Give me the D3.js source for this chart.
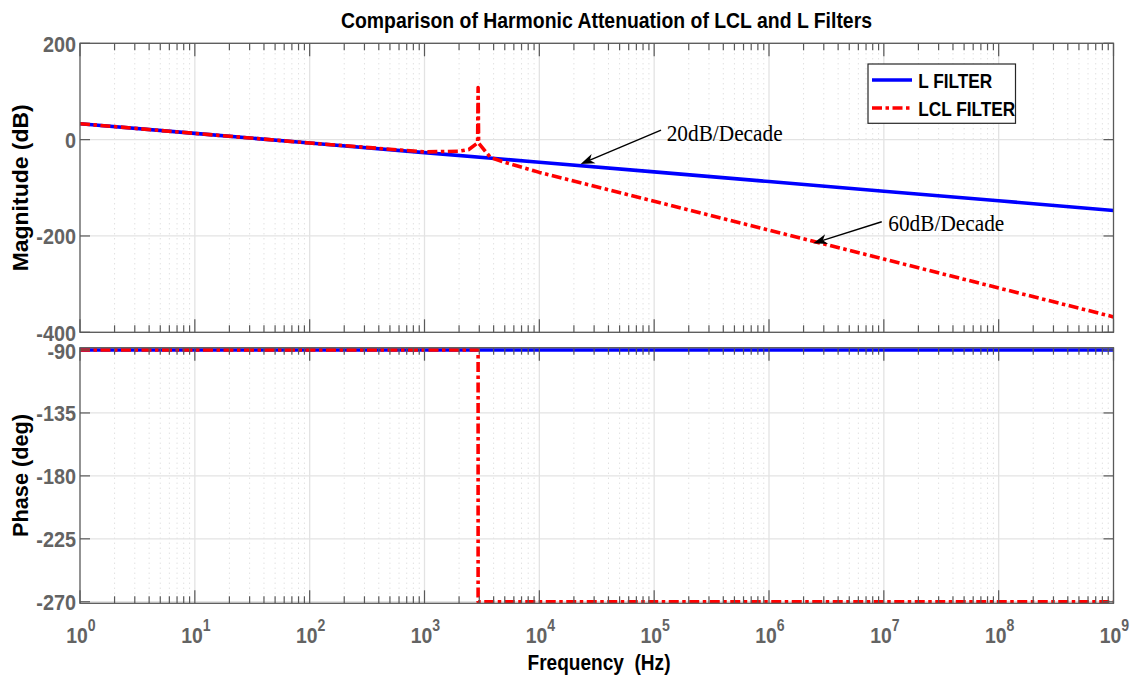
<!DOCTYPE html>
<html><head><meta charset="utf-8">
<script src="https://cdn.jsdelivr.net/npm/d3@7"></script>
<style>body{margin:0;background:#fff}svg{display:block}</style>
</head><body>
<script>
// ---------- data ----------
const freqExponents = [0,1,2,3,4,5,6,7,8,9];
const magTicks = [200,0,-200,-400];
const phaseTicks = [-90,-135,-180,-225,-270];

const lFreq = [1,10,100,1e3,1e4,1e5,1e6,1e7,1e8,1e9];
const lMag  = [33,13,-7,-27,-47,-67,-87,-107,-127,-147];
const lPhaseFreq = [1,1e9];
const lPhase     = [-90,-90];

const lclFreq = [1,10,100,1000,2000,2430,2900,2930,2960,3750,5000,1e4,1e5,1e6,1e7,1e8,1e9];
const lclMag  = [33,13,-7,-25.5,-24,-20.5,-7,108,-7,-37,-47,-68,-128,-188,-248,-308,-368];
const lclPhaseFreq = [1,2930,2930,1e9];
const lclPhase     = [-90,-90,-270,-270];

const seriesNames = ["L FILTER","LCL FILTER"];
const annText     = ["20dB/Decade","60dB/Decade"];
const annTipFreq  = [2.29e4, 2.43e6];
const annTipMag   = [-50.7, -215.3];
const annTailFreq = [1.148e5, 9.59e6];
const annTailMag  = [19.9, -170.5];
const annTextFreq = [1.285e5, 1.094e7];
const annTextMag  = [-2.3, -189];

// ---------- layout ----------
const W=1134,H=680;
const L=80,R=1113.5;
const magTop=43.3,magBot=332.3,phTop=347.7,phBot=603.3;
const blue="#0000ff",red="#ff0000",axisCol="#595959",tickTxt="#636363";
const sans="'Liberation Sans',Arial,Helvetica,sans-serif";

const svg=d3.select("body").append("svg").attr("width",W).attr("height",H)
  .style("font-family",sans);

const x=d3.scaleLog().domain([1,1e9]).range([L,R]);
const yMag=d3.scaleLinear().domain([-400,200]).range([magBot,magTop]);
const yPh=d3.scaleLinear().domain([-271.1,-88.35]).range([phBot,phTop]);

const majors=freqExponents.map(e=>Math.pow(10,e));
const minors=[];
freqExponents.slice(0,-1).forEach(e=>{for(let k=2;k<10;k++)minors.push(k*Math.pow(10,e));});

const defs=svg.append("defs");
[["clipMag",magTop,magBot],["clipPh",phTop,phBot]].forEach(([id,t,b])=>{
  defs.append("clipPath").attr("id",id).append("rect")
    .attr("x",L).attr("y",t).attr("width",R-L).attr("height",b-t);
});

function panel(y,top,bot,ticks,clipId,series){
  const g=svg.append("g");
  g.selectAll(".mg").data(minors).join("line")
    .attr("x1",d=>x(d)).attr("x2",d=>x(d)).attr("y1",top).attr("y2",bot)
    .attr("stroke","#d4d4d4").attr("stroke-width",1).attr("stroke-dasharray","1,4");
  g.selectAll(".Mg").data(majors.slice(1,-1)).join("line")
    .attr("x1",d=>x(d)).attr("x2",d=>x(d)).attr("y1",top).attr("y2",bot)
    .attr("stroke","#e3e3e3").attr("stroke-width",1.3);
  g.selectAll(".hg").data(ticks).join("line")
    .attr("x1",L).attr("x2",R).attr("y1",d=>y(d)).attr("y2",d=>y(d))
    .attr("stroke","#e3e3e3").attr("stroke-width",1.3);
  const dg=g.append("g").attr("clip-path",`url(#${clipId})`);
  series.forEach(s=>{
    const pts=s.f.map((f,i)=>[x(f),y(s.v[i])]);
    dg.append("path").attr("d",d3.line()(pts)).attr("fill","none")
      .attr("stroke",s.c).attr("stroke-width",3.6)
      .attr("stroke-dasharray",s.dash||null).attr("stroke-linejoin","round");
  });
  const tk=g.append("g").attr("stroke",axisCol).attr("stroke-width",1.2);
  majors.forEach(d=>{
    tk.append("line").attr("x1",x(d)).attr("x2",x(d)).attr("y1",top).attr("y2",top+13);
    tk.append("line").attr("x1",x(d)).attr("x2",x(d)).attr("y1",bot).attr("y2",bot-13);
  });
  minors.forEach(d=>{
    tk.append("line").attr("x1",x(d)).attr("x2",x(d)).attr("y1",top).attr("y2",top+7);
    tk.append("line").attr("x1",x(d)).attr("x2",x(d)).attr("y1",bot).attr("y2",bot-7);
  });
  ticks.forEach(d=>{
    tk.append("line").attr("x1",L).attr("x2",L+10).attr("y1",y(d)).attr("y2",y(d));
    tk.append("line").attr("x1",R).attr("x2",R-10).attr("y1",y(d)).attr("y2",y(d));
  });
  g.append("rect").attr("x",L).attr("y",top).attr("width",R-L).attr("height",bot-top)
    .attr("fill","none").attr("stroke",axisCol).attr("stroke-width",1.3);
  g.selectAll(".yl").data(ticks).join("text")
    .attr("x",L-4).attr("y",d=>y(d)+8.5).attr("text-anchor","end")
    .attr("font-size",22).attr("font-weight","bold").attr("fill",tickTxt)
    .text(d=>d)
    .each(function(){const w=this.getComputedTextLength();
      this.setAttribute("textLength",w*0.9);this.setAttribute("lengthAdjust","spacingAndGlyphs");});
}

const redDash="10,3.5,3.5,3.5";
panel(yMag,magTop,magBot,magTicks,"clipMag",[
  {f:lFreq,v:lMag,c:blue},
  {f:lclFreq,v:lclMag,c:red,dash:redDash}
]);
panel(yPh,phTop,phBot,phaseTicks,"clipPh",[
  {f:lPhaseFreq,v:lPhase,c:blue},
  {f:lclPhaseFreq,v:lclPhase,c:red,dash:redDash}
]);

// x tick labels
freqExponents.forEach(e=>{
  const t=svg.append("text").attr("transform",`translate(${x(Math.pow(10,e))+1},642.5) scale(0.88,1)`)
    .attr("text-anchor","middle").attr("font-size",22).attr("font-weight","bold").attr("fill",tickTxt);
  t.append("tspan").text("10");
  t.append("tspan").attr("dy",-11.5).attr("font-size",16).text(e);
});

// title and axis labels
function fitText(sel,len){sel.attr("textLength",len).attr("lengthAdjust","spacingAndGlyphs");return sel;}
fitText(svg.append("text").attr("x",606.5).attr("y",28.3).attr("text-anchor","middle")
  .attr("font-size",21.5).attr("font-weight","bold").attr("fill","#000")
  .text("Comparison of Harmonic Attenuation of LCL and L Filters"),531);
fitText(svg.append("text").attr("x",599).attr("y",670).attr("text-anchor","middle")
  .attr("font-size",21.5).attr("font-weight","bold").attr("fill","#000")
  .style("white-space","pre").attr("xml:space","preserve")
  .text("Frequency  (Hz)"),143);
fitText(svg.append("text").attr("transform",`translate(28,${(magTop+magBot)/2}) rotate(-90)`)
  .attr("text-anchor","middle").attr("font-size",21.5).attr("font-weight","bold").attr("fill","#000")
  .text("Magnitude (dB)"),167);
fitText(svg.append("text").attr("transform",`translate(28,${(phTop+phBot)/2}) rotate(-90)`)
  .attr("text-anchor","middle").attr("font-size",21.5).attr("font-weight","bold").attr("fill","#000")
  .text("Phase (deg)"),123);

// annotations
annText.forEach((txt,i)=>{
  const tx=x(annTipFreq[i]),ty=yMag(annTipMag[i]);
  const sx=x(annTailFreq[i]),sy=yMag(annTailMag[i]);
  const ang=Math.atan2(sy-ty,sx-tx);
  const len=14,hw=5,notch=10;
  const ux=Math.cos(ang),uy=Math.sin(ang),px=-uy,py=ux;
  svg.append("line").attr("x1",sx).attr("y1",sy).attr("x2",tx+ux*notch).attr("y2",ty+uy*notch)
    .attr("stroke","#000").attr("stroke-width",1.4);
  const head=[[tx,ty],[tx+ux*len+px*hw,ty+uy*len+py*hw],[tx+ux*notch,ty+uy*notch],[tx+ux*len-px*hw,ty+uy*len-py*hw]];
  svg.append("path").attr("d","M"+head.map(p=>p.join(",")).join("L")+"Z").attr("fill","#000");
  fitText(svg.append("text").attr("x",x(annTextFreq[i])).attr("y",yMag(annTextMag[i]))
    .attr("font-family","'Liberation Serif','Times New Roman',serif").attr("font-size",22.5)
    .attr("fill","#000").text(txt),116);
});

// legend
const lg=svg.append("g");
lg.append("rect").attr("x",868).attr("y",64).attr("width",147.5).attr("height",59.3)
  .attr("fill","#fff").attr("stroke","#262626").attr("stroke-width",1.2);
const legCols=[blue,red],legDash=[null,redDash],legLen=[74,97];
seriesNames.forEach((n,i)=>{
  const yy=80+i*28;
  lg.append("line").attr("x1",872).attr("x2",912).attr("y1",yy).attr("y2",yy)
    .attr("stroke",legCols[i]).attr("stroke-width",3.6).attr("stroke-dasharray",legDash[i]);
  fitText(lg.append("text").attr("x",918.3).attr("y",yy+8.3).attr("font-size",19.5)
    .attr("font-weight","bold").attr("fill","#000").text(n),legLen[i]);
});
</script>
</body></html>
